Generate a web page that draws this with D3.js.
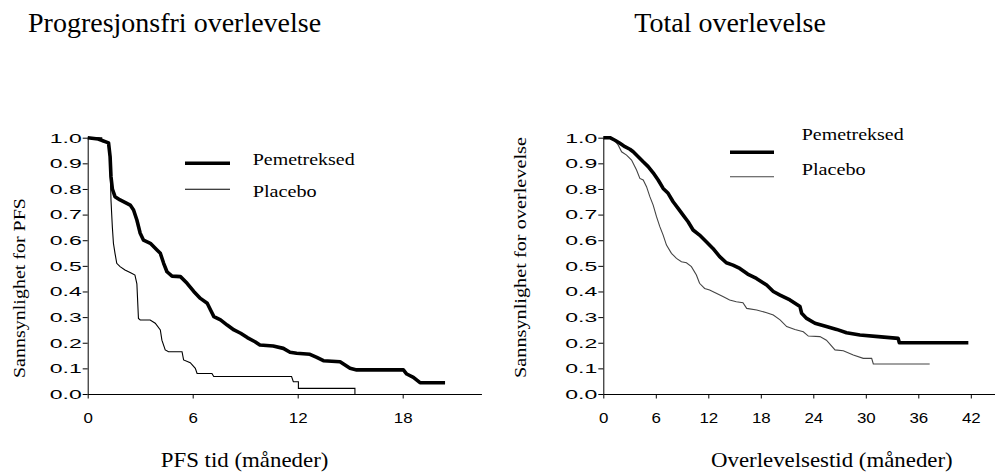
<!DOCTYPE html>
<html>
<head>
<meta charset="utf-8">
<script src="https://cdn.jsdelivr.net/npm/d3@7"></script>
<style>
  body { margin: 0; background: #fff; }
  text { fill: #000; }
  .serif { font-family: "Liberation Serif", "Times New Roman", serif; }
  .tick text { font-family: "Liberation Sans", Arial, sans-serif; }
</style>
</head>
<body>
<svg id="svg1" width="995" height="473"></svg>
<script>
// --- data: [month, survival probability]
const pfsPemetreksed = [
  [0, 1.0], [0.6, 0.995], [1.19, 0.98], [1.28, 0.926], [1.33, 0.848], [1.41, 0.80],
  [1.56, 0.77], [1.85, 0.757], [2.43, 0.737], [2.62, 0.718], [2.81, 0.679], [3.0, 0.627],
  [3.19, 0.60], [3.58, 0.588], [3.96, 0.562], [4.15, 0.549], [4.34, 0.51], [4.53, 0.477],
  [4.82, 0.46], [5.3, 0.458], [5.68, 0.432], [6.06, 0.40], [6.44, 0.373], [6.83, 0.354],
  [7.02, 0.328], [7.21, 0.302], [7.59, 0.289], [7.97, 0.269], [8.36, 0.25], [8.74, 0.237],
  [9.12, 0.22], [9.56, 0.204], [9.84, 0.191], [10.6, 0.187], [11.18, 0.178], [11.56, 0.163],
  [11.94, 0.159], [12.7, 0.155], [13.09, 0.143], [13.47, 0.13], [14.42, 0.126], [14.99, 0.1],
  [15.37, 0.094], [18.04, 0.094], [18.23, 0.078], [18.61, 0.065], [18.99, 0.044], [20.42, 0.044]
];
const pfsPlacebo = [
  [0, 1.0], [0.8, 1.0], [0.8, 0.985], [1.19, 0.98], [1.28, 0.9], [1.33, 0.757], [1.41, 0.65],
  [1.47, 0.588], [1.56, 0.549], [1.66, 0.51], [1.85, 0.497], [2.13, 0.484], [2.51, 0.471],
  [2.7, 0.464], [2.81, 0.43], [2.9, 0.295], [3.0, 0.289], [3.57, 0.289], [3.86, 0.276],
  [4.15, 0.25], [4.24, 0.21], [4.43, 0.172], [4.62, 0.165], [5.39, 0.165], [5.48, 0.133],
  [5.86, 0.122], [6.15, 0.1], [6.25, 0.08], [7.1, 0.08], [7.2, 0.068], [11.65, 0.068],
  [11.75, 0.048], [12.04, 0.048], [12.04, 0.022], [15.27, 0.022], [15.27, 0]
];
const osPemetreksed = [
  [0, 1.0], [0.76, 1.0], [1.33, 0.99], [1.9, 0.978], [2.47, 0.965], [3.04, 0.955], [3.42, 0.945],
  [3.99, 0.926], [4.56, 0.906], [5.13, 0.887], [5.7, 0.863], [6.27, 0.835], [6.84, 0.802],
  [7.41, 0.783], [7.98, 0.75], [8.55, 0.724], [9.12, 0.698], [9.69, 0.672], [10.26, 0.64],
  [11.0, 0.62], [11.77, 0.594], [12.53, 0.568], [13.3, 0.536], [14.06, 0.512], [14.82, 0.503],
  [15.6, 0.49], [16.5, 0.468], [17.5, 0.451], [18.67, 0.425], [19.43, 0.4], [20.2, 0.386],
  [21.33, 0.367], [22.48, 0.341], [22.67, 0.315], [23.24, 0.295], [24.19, 0.276], [25.5, 0.263],
  [26.67, 0.252], [27.8, 0.239], [29.33, 0.23], [31.43, 0.224], [33.7, 0.217], [33.83, 0.2],
  [41.72, 0.2]
];
const osPlacebo = [
  [0, 1.0], [1.14, 0.997], [1.71, 0.971], [2.09, 0.945], [2.66, 0.932], [3.23, 0.913],
  [3.8, 0.874], [4.18, 0.841], [4.56, 0.835], [4.94, 0.809], [5.32, 0.77], [5.7, 0.737],
  [6.08, 0.692], [6.46, 0.653], [6.84, 0.62], [7.22, 0.581], [7.79, 0.549], [8.36, 0.529],
  [8.93, 0.516], [9.5, 0.512], [10.07, 0.497], [10.64, 0.464], [11.0, 0.432], [11.58, 0.412],
  [12.15, 0.406], [12.91, 0.393], [13.67, 0.38], [14.44, 0.367], [15.2, 0.36], [15.96, 0.356],
  [16.39, 0.334], [17.53, 0.328], [18.67, 0.317], [19.43, 0.308], [20.2, 0.289], [20.96, 0.263],
  [21.9, 0.252], [22.86, 0.243], [23.43, 0.226], [24.76, 0.224], [25.5, 0.21], [26.48, 0.172],
  [27.43, 0.169], [28.57, 0.152], [29.71, 0.139], [30.67, 0.139], [30.86, 0.117], [37.3, 0.117]
];

const yTicks = [0, 0.1, 0.2, 0.3, 0.4, 0.5, 0.6, 0.7, 0.8, 0.9, 1.0];
const pfsTicks = [0, 6, 12, 18];
const osTicks = [0, 6, 12, 18, 24, 30, 36, 42];
const seriesNames = ['Pemetreksed', 'Placebo'];

const svg1 = d3.select('#svg1');

const drawPanel = function(p) {
  const xScale = d3.scaleLinear().domain([0, p.xMax]).range([p.left, p.left + 393.75]);
  const yScale = d3.scaleLinear().domain([0, 1]).range([394, 137.7]);

  const g = svg1.append('g');

  // x axis
  const xAxisG = g.append('g')
    .attr('transform', 'translate(0,394)')
    .call(d3.axisBottom(xScale).tickValues(p.xTicks).tickSize(4.5).tickSizeOuter(0).tickFormat(d3.format('d')));
  xAxisG.selectAll('.tick text')
    .attr('y', 19)
    .attr('font-size', 14)
    .attr('textLength', d => String(d).length * 9.4)
    .attr('lengthAdjust', 'spacingAndGlyphs');

  // y axis
  const yAxisG = g.append('g')
    .attr('transform', `translate(${p.left},0)`)
    .call(d3.axisLeft(yScale).tickValues(yTicks).tickSize(5).tickSizeOuter(0).tickFormat(d3.format('.1f')));
  yAxisG.selectAll('.tick text')
    .attr('x', -6)
    .attr('font-size', 13.5)
    .attr('textLength', 32)
    .attr('lengthAdjust', 'spacingAndGlyphs');

  g.selectAll('.domain, .tick line').attr('stroke', '#000');

  // curves
  const line = d3.line()
    .x(d => xScale(d[0]))
    .y(d => yScale(d[1]))
    .curve(d3.curveLinear);

  g.append('path').datum(p.placebo)
    .attr('d', line)
    .attr('fill', 'none')
    .attr('stroke', p.placeboColor)
    .attr('stroke-width', 1.1);

  g.append('path').datum(p.pemetreksed)
    .attr('d', line)
    .attr('fill', 'none')
    .attr('stroke', '#000')
    .attr('stroke-width', 3.6)
    .attr('stroke-linejoin', 'round');

  // legend
  const leg = p.legend;
  g.append('line')
    .attr('x1', leg.x1).attr('x2', leg.x2).attr('y1', leg.y1).attr('y2', leg.y1)
    .attr('stroke', '#000').attr('stroke-width', 3.6);
  g.append('line')
    .attr('x1', leg.x1).attr('x2', leg.x2).attr('y1', leg.y2).attr('y2', leg.y2)
    .attr('stroke', p.placeboColor).attr('stroke-width', 1.1);
  g.append('text').attr('class', 'serif')
    .attr('x', leg.tx).attr('y', leg.ty1)
    .attr('font-size', 17).attr('textLength', 102).attr('lengthAdjust', 'spacingAndGlyphs')
    .text(seriesNames[0]);
  g.append('text').attr('class', 'serif')
    .attr('x', leg.tx).attr('y', leg.ty2)
    .attr('font-size', 17).attr('textLength', 64).attr('lengthAdjust', 'spacingAndGlyphs')
    .text(seriesNames[1]);

  // titles
  g.append('text').attr('class', 'serif')
    .attr('x', p.titleX).attr('y', 32)
    .attr('font-size', 28)
    .text(p.title);

  g.append('text').attr('class', 'serif')
    .attr('x', p.xLabelX).attr('y', 467)
    .attr('font-size', 21).attr('textLength', p.xLabelLen).attr('lengthAdjust', 'spacingAndGlyphs')
    .text(p.xLabel);

  g.append('text').attr('class', 'serif')
    .attr('transform', `translate(${p.yLabelX},${p.yLabelY}) rotate(-90)`)
    .attr('text-anchor', 'middle')
    .attr('font-size', 17.5).attr('textLength', p.yLabelLen).attr('lengthAdjust', 'spacingAndGlyphs')
    .text(p.yLabel);
};

drawPanel({
  left: 87.7, xMax: 22.5, xTicks: pfsTicks,
  pemetreksed: pfsPemetreksed, placebo: pfsPlacebo, placeboColor: '#000',
  title: 'Progresjonsfri overlevelse', titleX: 28,
  xLabel: 'PFS tid (måneder)', xLabelX: 160.7, xLabelLen: 167.7,
  yLabel: 'Sannsynlighet for PFS', yLabelX: 25, yLabelY: 288, yLabelLen: 180,
  legend: { x1: 185, x2: 230, y1: 163.3, y2: 189.3, tx: 252.7, ty1: 164.5, ty2: 197 }
});

drawPanel({
  left: 603.3, xMax: 45, xTicks: osTicks,
  pemetreksed: osPemetreksed, placebo: osPlacebo, placeboColor: '#444',
  title: 'Total overlevelse', titleX: 634.3,
  xLabel: 'Overlevelsestid (måneder)', xLabelX: 711, xLabelLen: 241.7,
  yLabel: 'Sannsynlighet for overlevelse', yLabelX: 526, yLabelY: 257.5, yLabelLen: 241,
  legend: { x1: 730, x2: 774, y1: 152.3, y2: 176.7, tx: 801.7, ty1: 140, ty2: 175 }
});
</script>
</body>
</html>
